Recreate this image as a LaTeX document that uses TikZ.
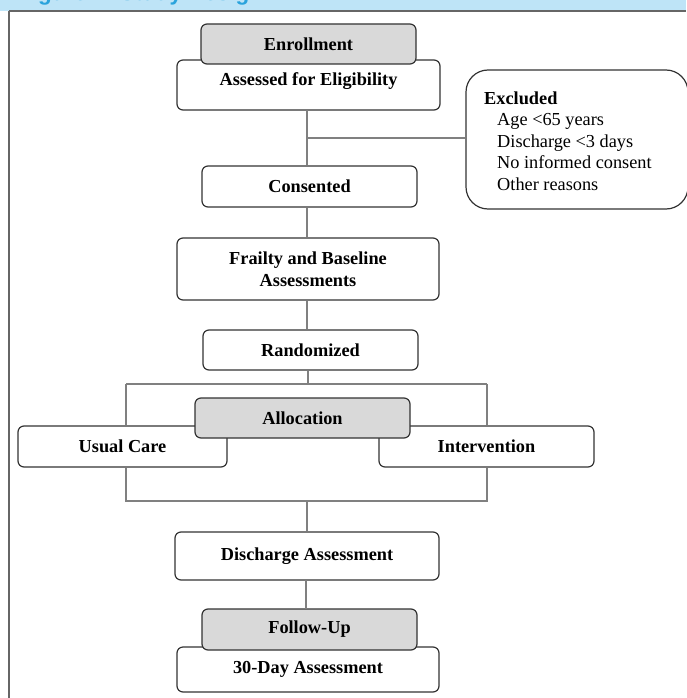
\documentclass[tikz,border=0pt]{standalone}
\usepackage{fontspec}
\setmainfont{Liberation Serif}
\newfontfamily\hdrfont{Liberation Sans}
\definecolor{boxline}{HTML}{333333}
\definecolor{conn}{HTML}{808080}
\definecolor{grayfill}{HTML}{D9D9D9}
\definecolor{strip}{HTML}{BEE4F7}
\definecolor{hdrblue}{HTML}{2AA3DC}
\definecolor{frame}{HTML}{666666}
\tikzset{
  stepbox/.style={draw=boxline, line width=1.2pt, rounded corners=6pt, fill=white,
    inner sep=0pt, align=center, font=\fontsize{18.3}{21.5}\selectfont\bfseries},
  graybox/.style={stepbox, fill=grayfill},
  conline/.style={draw=conn, line width=1.3pt},
  lbl/.style={inner sep=0pt, font=\fontsize{18.3}{21.5}\selectfont\bfseries}
}
\begin{document}
\begin{tikzpicture}[x=1pt, y=-1pt]
\useasboundingbox (0,0) rectangle (686,698);
% header strip
\fill[strip] (0,0) rectangle (686,11);
\begin{scope}
\clip (0,0) rectangle (686,10.5);
\node[overlay, anchor=base west, inner sep=0pt, text=hdrblue, font=\hdrfont\fontsize{22.4}{24}\selectfont\bfseries] (hdr) at (18,0.5) {Figure 1. Study Design};
\end{scope}
\draw[frame, line width=1.4pt] (9,11) -- (686,11);
\draw[frame, line width=2pt] (9,11) -- (9,698);

\coordinate (tl) at (126,384);
\coordinate (tr) at (487,384);
\coordinate (tm) at (308,384);
\coordinate (bl) at (126,501);
\coordinate (br) at (487,501);
\coordinate (bm) at (307,501);
\coordinate (ax) at (307,110);

% boxes
\node[stepbox, minimum width=263pt, minimum height=50pt] (assess) at (308.5,85) {};
\node[lbl] (assesst) at (308.5,81) {Assessed for Eligibility};
\node[graybox, minimum width=215pt, minimum height=40pt] (enroll) at (308.5,44) {Enrollment};
\node[stepbox, rounded corners=22pt, minimum width=222pt, minimum height=139pt] (excl) at (577,139.5) {};
\node[anchor=west, inner sep=0pt, align=left, font=\fontsize{18.3}{21.5}\selectfont] (exclt) at (484,141)
  {\textbf{Excluded}\\
   \hspace*{13pt}Age <65 years\\
   \hspace*{13pt}Discharge <3 days\\
   \hspace*{13pt}No informed consent\\
   \hspace*{13pt}Other reasons};
\node[stepbox, minimum width=215pt, minimum height=41pt] (consent) at (309.5,186.5) {Consented};
\node[stepbox, minimum width=262pt, minimum height=62pt] (frail) at (308,269) {Frailty and Baseline\\Assessments};
\node[stepbox, minimum width=215pt, minimum height=40pt] (rand) at (310.5,350) {Randomized};
\node[stepbox, minimum width=209pt, minimum height=41pt] (usual) at (122.5,446.5) {Usual Care};
\node[stepbox, minimum width=215pt, minimum height=41pt] (interv) at (486.5,446.5) {Intervention};
\node[graybox, minimum width=215pt, minimum height=40pt] (alloc) at (302.5,418) {Allocation};
\node[stepbox, minimum width=264pt, minimum height=48pt] (disch) at (307,556) {Discharge Assessment};
\node[stepbox, minimum width=262pt, minimum height=45pt] (thirty) at (308,669.5) {30-Day Assessment};
\node[graybox, minimum width=215pt, minimum height=41pt] (follow) at (309.5,629.5) {Follow-Up};

% connectors
\draw[conline] (ax) -- (ax |- consent.north);
\draw[conline] (ax |- 0,138) -- (excl.west |- 0,138);
\draw[conline] (ax |- consent.south) -- (ax |- frail.north);
\draw[conline] (ax |- frail.south) -- (ax |- rand.north);
\draw[conline] (tm |- rand.south) -- (tm);
\draw[conline] (tl) -- (tr);
\draw[conline] (tl) -- (tl |- usual.north);
\draw[conline] (tr) -- (tr |- interv.north);
\draw[conline] (bl |- usual.south) -- (bl) -- (br) -- (br |- interv.south);
\draw[conline] (bm) -- (bm |- disch.north);
\draw[conline] (306,580) -- (306,609);
\end{tikzpicture}
\end{document}
